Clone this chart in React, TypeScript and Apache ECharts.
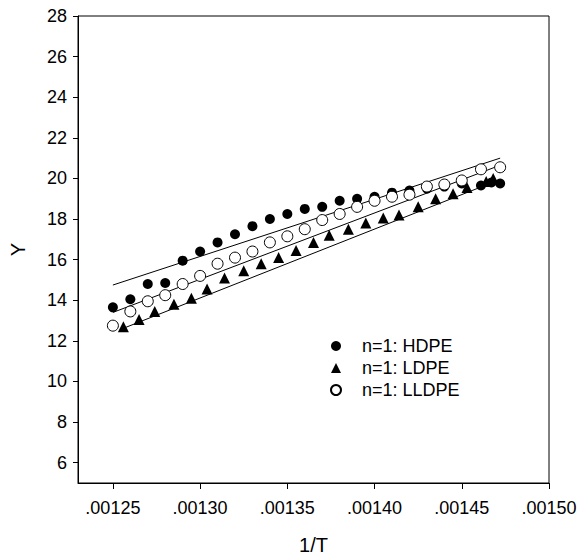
import React, { useEffect, useRef } from "react";
import * as echarts from "echarts";

// Reciprocal temperature (1/T) and Y values for each polyethylene grade, n = 1
const hdpeX = [
  0.00125, 0.00126, 0.00127, 0.00128, 0.00129, 0.0013, 0.00131, 0.00132, 0.00133, 0.00134, 0.00135, 0.00136,
  0.00137, 0.00138, 0.00139, 0.0014, 0.00141, 0.00142, 0.00143, 0.00144, 0.00145, 0.001461, 0.001467, 0.001472,
];
const hdpeY = [
  13.65, 14.05, 14.8, 14.85, 15.95, 16.4, 16.85, 17.25, 17.65, 18.0, 18.25, 18.5,
  18.6, 18.9, 19.0, 19.1, 19.3, 19.4, 19.5, 19.6, 19.75, 19.65, 19.8, 19.75,
];

const ldpeX = [
  0.001256, 0.001265, 0.001274, 0.001285, 0.001295, 0.001304, 0.001314, 0.001325, 0.001335, 0.001345, 0.001355,
  0.001365, 0.001374, 0.001385, 0.001395, 0.001405, 0.001414, 0.001425, 0.001435, 0.001445, 0.001453, 0.001464,
  0.001468,
];
const ldpeY = [
  12.7, 13.05, 13.45, 13.8, 14.1, 14.55, 15.1, 15.45, 15.8, 16.1, 16.45,
  16.85, 17.2, 17.5, 17.8, 18.05, 18.2, 18.6, 19.0, 19.25, 19.55, 19.85, 20.0,
];

const lldpeX = [
  0.00125, 0.00126, 0.00127, 0.00128, 0.00129, 0.0013, 0.00131, 0.00132, 0.00133, 0.00134, 0.00135, 0.00136,
  0.00137, 0.00138, 0.00139, 0.0014, 0.00141, 0.00142, 0.00143, 0.00144, 0.00145, 0.001461, 0.001472,
];
const lldpeY = [
  12.75, 13.45, 13.95, 14.25, 14.8, 15.2, 15.8, 16.1, 16.4, 16.85, 17.15, 17.5,
  17.95, 18.25, 18.6, 18.9, 19.1, 19.2, 19.6, 19.7, 19.9, 20.45, 20.55,
];

// Straight-line fits: [start, end] in x and y
const hdpeFitX = [0.00125, 0.001472];
const hdpeFitY = [14.75, 21.0];
const ldpeFitX = [0.001254, 0.001472];
const ldpeFitY = [12.55, 19.95];
const lldpeFitX = [0.00125, 0.001472];
const lldpeFitY = [13.4, 20.65];

const xTicks = [0.00125, 0.0013, 0.00135, 0.0014, 0.00145, 0.0015];
const yTicks = [6, 8, 10, 12, 14, 16, 18, 20, 22, 24, 26, 28];

const seriesNames = ["n=1: HDPE", "n=1: LDPE", "n=1: LLDPE"];

const FONT = "'Liberation Sans', Arial, Helvetica, sans-serif";

const pairs = (xs: number[], ys: number[]) => xs.map((x, i) => [x, ys[i]]);

export default function App() {
  const ref = useRef<HTMLDivElement>(null);

  useEffect(() => {
    document.body.style.margin = "0";
    if (!ref.current) return;
    const chart = echarts.init(ref.current, null, { renderer: "svg" });

    const fitLine = (xs: number[], ys: number[]) => ({
      type: "line",
      data: pairs(xs, ys),
      showSymbol: false,
      silent: true,
      lineStyle: { color: "#000", width: 1 },
      z: 1,
    });

    chart.setOption({
      animation: false,
      backgroundColor: "#fff",
      textStyle: { fontFamily: FONT, color: "#000" },
      grid: {
        left: 78,
        right: 31,
        top: 16,
        bottom: 76,
        show: true,
        borderColor: "#000",
        borderWidth: 1,
        backgroundColor: "transparent",
      },
      legend: {
        orient: "vertical",
        left: 325,
        top: 332,
        itemWidth: 10,
        itemHeight: 10,
        itemGap: 4,
        data: seriesNames,
        textStyle: { fontFamily: FONT, fontSize: 18, color: "#000", padding: [0, 0, 0, 16] },
      },
      xAxis: {
        type: "value",
        min: 0.00123,
        max: 0.0015,
        name: "1/T",
        nameLocation: "middle",
        nameGap: 52,
        nameTextStyle: { fontFamily: FONT, fontSize: 20, color: "#000" },
        axisLine: { lineStyle: { color: "#000", width: 1 } },
        axisTick: { customValues: xTicks, length: 6, lineStyle: { color: "#000" } },
        axisLabel: {
          customValues: xTicks,
          margin: 16,
          fontFamily: FONT,
          fontSize: 18,
          color: "#000",
          formatter: (v: number) => v.toFixed(5).replace(/^0/, ""),
        },
        splitLine: { show: false },
      },
      yAxis: {
        type: "value",
        min: 5,
        max: 28,
        name: "Y",
        nameLocation: "middle",
        nameGap: 50,
        nameTextStyle: { fontFamily: FONT, fontSize: 20, color: "#000" },
        axisLine: { show: true, lineStyle: { color: "#000", width: 1 } },
        axisTick: { show: true, customValues: yTicks, length: 5, lineStyle: { color: "#000" } },
        axisLabel: { customValues: yTicks, margin: 11, fontFamily: FONT, fontSize: 18, color: "#000" },
        splitLine: { show: false },
      },
      series: [
        fitLine(hdpeFitX, hdpeFitY),
        fitLine(ldpeFitX, ldpeFitY),
        fitLine(lldpeFitX, lldpeFitY),
        {
          name: seriesNames[0],
          type: "scatter",
          data: pairs(hdpeX, hdpeY),
          symbol: "circle",
          symbolSize: 10,
          itemStyle: { color: "#000", opacity: 1 },
          z: 3,
        },
        {
          name: seriesNames[1],
          type: "scatter",
          data: pairs(ldpeX, ldpeY),
          symbol: "triangle",
          symbolSize: 11,
          itemStyle: { color: "#000", opacity: 1 },
          z: 3,
        },
        {
          name: seriesNames[2],
          type: "scatter",
          data: pairs(lldpeX, lldpeY),
          symbol: "circle",
          symbolSize: 11,
          itemStyle: { color: "#fff", borderColor: "#000", borderWidth: 1, opacity: 1 },
          z: 4,
        },
      ],
    });

    return () => chart.dispose();
  }, []);

  return <div ref={ref} style={{ width: 580, height: 560 }} />;
}
